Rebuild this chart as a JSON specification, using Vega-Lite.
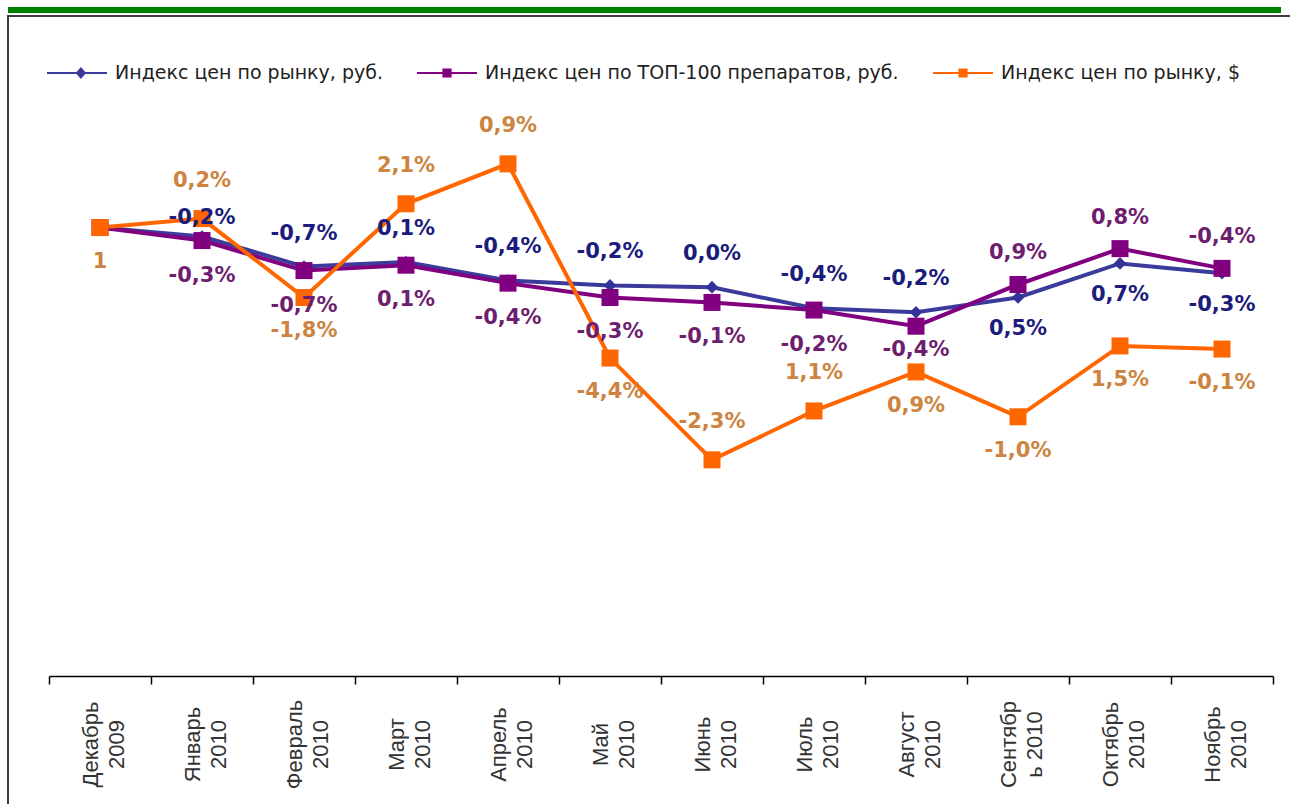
{
  "$schema": "https://vega.github.io/schema/vega-lite/v6.json",
  "padding": {"left": -4, "top": 7, "right": 0, "bottom": 0},
  "background": "white",
  "spacing": 2,
  "vconcat": [
    {
      "width": 1273,
      "height": 6,
      "data": {"values": [{}]},
      "mark": {"type": "rect", "color": "#008000"},
      "view": {"stroke": null}
    },
    {
      "width": 1290,
      "height": 800,
      "view": {"stroke": "#3c3c3c", "strokeWidth": 2},
      "data": {
        "values": [
          {"month": "Декабрь 2009", "series": "Индекс цен по рынку, руб.", "value": 1.0, "label": ""},
          {"month": "Январь 2010", "series": "Индекс цен по рынку, руб.", "value": 0.998, "label": "-0,2%"},
          {"month": "Февраль 2010", "series": "Индекс цен по рынку, руб.", "value": 0.9913, "label": "-0,7%"},
          {"month": "Март 2010", "series": "Индекс цен по рынку, руб.", "value": 0.9923, "label": "0,1%"},
          {"month": "Апрель 2010", "series": "Индекс цен по рынку, руб.", "value": 0.9882, "label": "-0,4%"},
          {"month": "Май 2010", "series": "Индекс цен по рынку, руб.", "value": 0.9871, "label": "-0,2%"},
          {"month": "Июнь 2010", "series": "Индекс цен по рынку, руб.", "value": 0.9867, "label": "0,0%"},
          {"month": "Июль 2010", "series": "Индекс цен по рынку, руб.", "value": 0.982, "label": "-0,4%"},
          {"month": "Август 2010", "series": "Индекс цен по рынку, руб.", "value": 0.9811, "label": "-0,2%"},
          {"month": "Сентябрь 2010", "series": "Индекс цен по рынку, руб.", "value": 0.9844, "label": "0,5%"},
          {"month": "Октябрь 2010", "series": "Индекс цен по рынку, руб.", "value": 0.992, "label": "0,7%"},
          {"month": "Ноябрь 2010", "series": "Индекс цен по рынку, руб.", "value": 0.9898, "label": "-0,3%"},
          {"month": "Декабрь 2009", "series": "Индекс цен по ТОП-100 препаратов, руб.", "value": 1.0, "label": ""},
          {"month": "Январь 2010", "series": "Индекс цен по ТОП-100 препаратов, руб.", "value": 0.9971, "label": "-0,3%"},
          {"month": "Февраль 2010", "series": "Индекс цен по ТОП-100 препаратов, руб.", "value": 0.9904, "label": "-0,7%"},
          {"month": "Март 2010", "series": "Индекс цен по ТОП-100 препаратов, руб.", "value": 0.9916, "label": "0,1%"},
          {"month": "Апрель 2010", "series": "Индекс цен по ТОП-100 препаратов, руб.", "value": 0.9876, "label": "-0,4%"},
          {"month": "Май 2010", "series": "Индекс цен по ТОП-100 препаратов, руб.", "value": 0.9844, "label": "-0,3%"},
          {"month": "Июнь 2010", "series": "Индекс цен по ТОП-100 препаратов, руб.", "value": 0.9833, "label": "-0,1%"},
          {"month": "Июль 2010", "series": "Индекс цен по ТОП-100 препаратов, руб.", "value": 0.9816, "label": "-0,2%"},
          {"month": "Август 2010", "series": "Индекс цен по ТОП-100 препаратов, руб.", "value": 0.978, "label": "-0,4%"},
          {"month": "Сентябрь 2010", "series": "Индекс цен по ТОП-100 препаратов, руб.", "value": 0.9873, "label": "0,9%"},
          {"month": "Октябрь 2010", "series": "Индекс цен по ТОП-100 препаратов, руб.", "value": 0.9953, "label": "0,8%"},
          {"month": "Ноябрь 2010", "series": "Индекс цен по ТОП-100 препаратов, руб.", "value": 0.9909, "label": "-0,4%"},
          {"month": "Декабрь 2009", "series": "Индекс цен по рынку, $", "value": 1.0, "label": "1"},
          {"month": "Январь 2010", "series": "Индекс цен по рынку, $", "value": 1.002, "label": "0,2%"},
          {"month": "Февраль 2010", "series": "Индекс цен по рынку, $", "value": 0.9844, "label": "-1,8%"},
          {"month": "Март 2010", "series": "Индекс цен по рынку, $", "value": 1.0053, "label": "2,1%"},
          {"month": "Апрель 2010", "series": "Индекс цен по рынку, $", "value": 1.0142, "label": "0,9%"},
          {"month": "Май 2010", "series": "Индекс цен по рынку, $", "value": 0.9709, "label": "-4,4%"},
          {"month": "Июнь 2010", "series": "Индекс цен по рынку, $", "value": 0.9482, "label": "-2,3%"},
          {"month": "Июль 2010", "series": "Индекс цен по рынку, $", "value": 0.9591, "label": "1,1%"},
          {"month": "Август 2010", "series": "Индекс цен по рынку, $", "value": 0.9678, "label": "0,9%"},
          {"month": "Сентябрь 2010", "series": "Индекс цен по рынку, $", "value": 0.9578, "label": "-1,0%"},
          {"month": "Октябрь 2010", "series": "Индекс цен по рынку, $", "value": 0.9736, "label": "1,5%"},
          {"month": "Ноябрь 2010", "series": "Индекс цен по рынку, $", "value": 0.9729, "label": "-0,1%"}
        ]
      },
      "encoding": {
        "x": {
          "field": "month",
          "type": "nominal",
          "sort": null,
          "scale": {"type": "band", "range": [41, 1265], "paddingInner": 0, "paddingOuter": 0},
          "axis": {
            "title": null,
            "orient": "bottom",
            "offset": -140,
            "domainColor": "#000000",
            "domainWidth": 1.5,
            "tickColor": "#000000",
            "tickWidth": 1.5,
            "tickSize": 8,
            "tickBand": "extent",
            "grid": false,
            "labelAngle": 270,
            "labelAlign": "center",
            "labelBaseline": "middle",
            "labelPadding": 60,
            "labelOffset": -10,
            "labelFont": "Liberation Sans",
            "labelFontSize": 22,
            "labelLineHeight": 26,
            "labelColor": "#333333",
            "labelOverlap": false,
            "labelExpr": "datum.label == 'Сентябрь 2010' ? ['Сентябр', 'ь 2010'] : split(datum.label, ' ')"
          }
        },
        "y": {
          "field": "value",
          "type": "quantitative",
          "scale": {"domain": [0.9, 1.03], "range": [660, 77], "zero": false, "nice": false},
          "axis": null
        }
      },
      "layer": [
        {
          "mark": {"type": "line", "strokeWidth": 4},
          "encoding": {
            "color": {
              "field": "series",
              "type": "nominal",
              "sort": null,
              "scale": {
                "domain": ["Индекс цен по рынку, руб.", "Индекс цен по ТОП-100 препаратов, руб.", "Индекс цен по рынку, $"],
                "range": ["#3b3b9b", "#800080", "#ff6600"]
              },
              "legend": {
                "title": null,
                "orient": "none",
                "legendX": 38,
                "legendY": 35,
                "direction": "horizontal",
                "columnPadding": 30,
                "symbolSize": 3600,
                "labelOffset": 7,
                "labelFont": "DejaVu Sans",
                "labelFontSize": 19,
                "labelColor": "#222222",
                "labelLimit": 600,
                "encode": {
                  "symbols": {
                    "update": {
                      "shape": {"signal": "datum.value === 'Индекс цен по рынку, руб.' ? 'M-1,0H1M0.13,-0.15L0.26,0L0.13,0.15L0,0Z' : 'M-1,0H1M-0.12,-0.12H0.12V0.12H-0.12Z'"},
                      "fill": {"signal": "datum.value === 'Индекс цен по рынку, руб.' ? '#333399' : datum.value === 'Индекс цен по ТОП-100 препаратов, руб.' ? '#800080' : '#ff6600'"},
                      "strokeWidth": {"value": 2},
                      "opacity": {"value": 1}
                    }
                  }
                }
              }
            }
          }
        },
        {
          "transform": [{"filter": {"field": "series", "equal": "Индекс цен по рынку, руб."}}],
          "mark": {"type": "point", "shape": "diamond", "filled": true, "size": 160, "color": "#333399", "opacity": 1}
        },
        {
          "transform": [{"filter": {"field": "series", "equal": "Индекс цен по ТОП-100 препаратов, руб."}}],
          "mark": {"type": "point", "shape": "square", "filled": true, "size": 289, "color": "#800080", "opacity": 1}
        },
        {
          "transform": [{"filter": {"field": "series", "equal": "Индекс цен по рынку, $"}}],
          "mark": {"type": "point", "shape": "square", "filled": true, "size": 289, "color": "#ff6600", "opacity": 1}
        },
        {
          "transform": [{"filter": {"and": [{"field": "series", "equal": "Индекс цен по рынку, руб."}, {"field": "month", "oneOf": ["Январь 2010"]}]}}],
          "mark": {"type": "text", "dy": -19, "font": "DejaVu Sans", "fontWeight": "bold", "fontSize": 21, "color": "#1c1c7c", "align": "center", "baseline": "middle"},
          "encoding": {"text": {"field": "label"}}
        },
        {
          "transform": [{"filter": {"and": [{"field": "series", "equal": "Индекс цен по рынку, руб."}, {"field": "month", "oneOf": ["Февраль 2010", "Март 2010", "Апрель 2010", "Май 2010", "Июнь 2010", "Июль 2010", "Август 2010"]}]}}],
          "mark": {"type": "text", "dy": -33, "font": "DejaVu Sans", "fontWeight": "bold", "fontSize": 21, "color": "#1c1c7c", "align": "center", "baseline": "middle"},
          "encoding": {"text": {"field": "label"}}
        },
        {
          "transform": [{"filter": {"and": [{"field": "series", "equal": "Индекс цен по рынку, руб."}, {"field": "month", "oneOf": ["Сентябрь 2010", "Октябрь 2010", "Ноябрь 2010"]}]}}],
          "mark": {"type": "text", "dy": 32, "font": "DejaVu Sans", "fontWeight": "bold", "fontSize": 21, "color": "#1c1c7c", "align": "center", "baseline": "middle"},
          "encoding": {"text": {"field": "label"}}
        },
        {
          "transform": [{"filter": {"and": [{"field": "series", "equal": "Индекс цен по ТОП-100 препаратов, руб."}, {"field": "month", "oneOf": ["Январь 2010", "Февраль 2010", "Март 2010", "Апрель 2010", "Май 2010", "Июнь 2010", "Июль 2010"]}]}}],
          "mark": {"type": "text", "dy": 35, "font": "DejaVu Sans", "fontWeight": "bold", "fontSize": 21, "color": "#6e1e6e", "align": "center", "baseline": "middle"},
          "encoding": {"text": {"field": "label"}}
        },
        {
          "transform": [{"filter": {"and": [{"field": "series", "equal": "Индекс цен по ТОП-100 препаратов, руб."}, {"field": "month", "oneOf": ["Август 2010"]}]}}],
          "mark": {"type": "text", "dy": 24, "font": "DejaVu Sans", "fontWeight": "bold", "fontSize": 21, "color": "#6e1e6e", "align": "center", "baseline": "middle"},
          "encoding": {"text": {"field": "label"}}
        },
        {
          "transform": [{"filter": {"and": [{"field": "series", "equal": "Индекс цен по ТОП-100 препаратов, руб."}, {"field": "month", "oneOf": ["Сентябрь 2010", "Октябрь 2010", "Ноябрь 2010"]}]}}],
          "mark": {"type": "text", "dy": -31, "font": "DejaVu Sans", "fontWeight": "bold", "fontSize": 21, "color": "#6e1e6e", "align": "center", "baseline": "middle"},
          "encoding": {"text": {"field": "label"}}
        },
        {
          "transform": [{"filter": {"and": [{"field": "series", "equal": "Индекс цен по рынку, $"}, {"field": "month", "oneOf": ["Январь 2010", "Март 2010", "Апрель 2010", "Июнь 2010", "Июль 2010"]}]}}],
          "mark": {"type": "text", "dy": -38, "font": "DejaVu Sans", "fontWeight": "bold", "fontSize": 21, "color": "#cc8440", "align": "center", "baseline": "middle"},
          "encoding": {"text": {"field": "label"}}
        },
        {
          "transform": [{"filter": {"and": [{"field": "series", "equal": "Индекс цен по рынку, $"}, {"field": "month", "oneOf": ["Декабрь 2009", "Февраль 2010", "Май 2010", "Август 2010", "Сентябрь 2010", "Октябрь 2010", "Ноябрь 2010"]}]}}],
          "mark": {"type": "text", "dy": 34, "font": "DejaVu Sans", "fontWeight": "bold", "fontSize": 21, "color": "#cc8440", "align": "center", "baseline": "middle"},
          "encoding": {"text": {"field": "label"}}
        }
      ]
    }
  ]
}
